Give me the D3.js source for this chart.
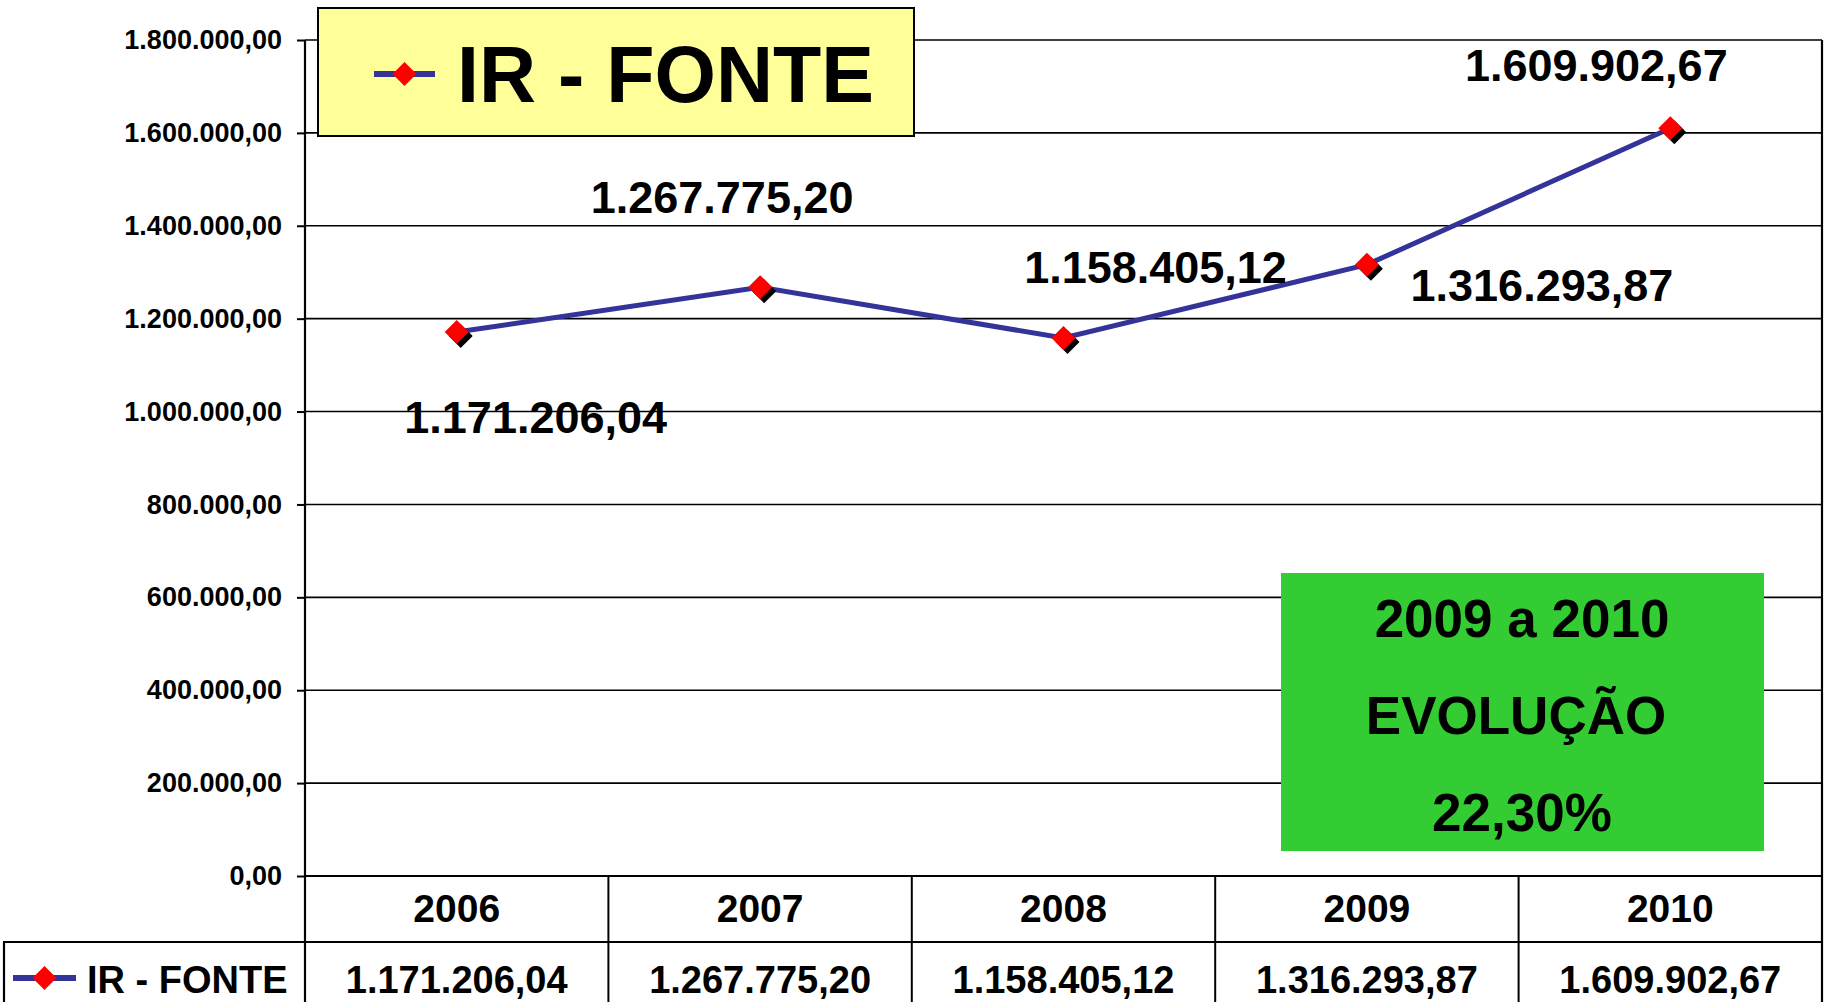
<!DOCTYPE html>
<html><head><meta charset="utf-8">
<script src="https://cdn.jsdelivr.net/npm/d3@7"></script>
<style>
html,body{margin:0;padding:0;background:#fff;}
svg{display:block;}
text{font-family:"Liberation Sans",Arial,Helvetica,sans-serif;font-weight:bold;fill:#000;}
</style></head>
<body>
<svg id="c" width="1826" height="1002"></svg>
<script>
// ---- data ----
const categories = ["2006","2007","2008","2009","2010"];
const seriesName = "IR - FONTE";
const values = [1171206.04, 1267775.20, 1158405.12, 1316293.87, 1609902.67];
const tickValues = [0,200000,400000,600000,800000,1000000,1200000,1400000,1600000,1800000];
const noteLines = ["2009 a 2010","EVOLUÇÃO","22,30%"];
// label offsets relative to point (style/layout)
const labelOffsets = [[79,101],[-38,-74],[92,-55],[175,36],[-74,-47]];

const loc = d3.formatLocale({decimal:",", thousands:".", grouping:[3], currency:["",""]});
const fmt = loc.format(",.2f");

const svg = d3.select("#c");
const L = 305, R = 1822, T = 40, B = 876;
const y = d3.scaleLinear().domain([0,1800000]).range([B,T]);
const x = d3.scaleBand().domain(categories).range([L,R]);
const cx = d => x(d) + x.bandwidth()/2;

// gridlines
svg.append("g").selectAll("line").data(tickValues).join("line")
  .attr("x1",L).attr("x2",R).attr("y1",d=>y(d)).attr("y2",d=>y(d))
  .attr("stroke","#000").attr("stroke-width",1.6);

// y axis
const yAxis = d3.axisLeft(y).tickValues(tickValues).tickSize(8).tickPadding(15).tickFormat(fmt);
const ga = svg.append("g").attr("transform",`translate(${L},0)`).call(yAxis);
ga.select(".domain").remove();
ga.selectAll(".tick line").attr("stroke","#000").attr("stroke-width",2);
ga.selectAll(".tick text").style("font-size","27px").attr("fill","#000")
  .style("font-family",'"Liberation Sans",Arial,sans-serif').style("font-weight","bold");
svg.append("line").attr("x1",L).attr("x2",L).attr("y1",T).attr("y2",1002).attr("stroke","#000").attr("stroke-width",2.2);
// right border
svg.append("line").attr("x1",R).attr("x2",R).attr("y1",T).attr("y2",1002).attr("stroke","#000").attr("stroke-width",2.2);
// zero line / table top
svg.append("line").attr("x1",L).attr("x2",R).attr("y1",B).attr("y2",B).attr("stroke","#000").attr("stroke-width",2.2);

// data table
const rowY = 942;
svg.append("line").attr("x1",3).attr("x2",R).attr("y1",rowY).attr("y2",rowY).attr("stroke","#000").attr("stroke-width",2.2);
svg.append("line").attr("x1",4).attr("x2",4).attr("y1",rowY).attr("y2",1002).attr("stroke","#000").attr("stroke-width",2.2);
svg.append("g").selectAll("line").data(categories.slice(1)).join("line")
  .attr("x1",d=>x(d)).attr("x2",d=>x(d)).attr("y1",B).attr("y2",1002)
  .attr("stroke","#000").attr("stroke-width",2);
svg.append("g").selectAll("text").data(categories).join("text")
  .attr("x",d=>cx(d)).attr("y",922)
  .attr("text-anchor","middle").style("font-size","39px").text(d=>d);
svg.append("g").selectAll("text").data(values).join("text")
  .attr("x",(d,i)=>cx(categories[i])).attr("y",993)
  .attr("text-anchor","middle").style("font-size","38px").text(d=>fmt(d));

// legend key
function legendKey(g, x0, x1, yy, lw, r){
  g.append("line").attr("x1",x0).attr("x2",x1).attr("y1",yy).attr("y2",yy).attr("stroke","#333399").attr("stroke-width",lw);
  const m=(x0+x1)/2;
  g.append("path").attr("d",`M${m},${yy-r}L${m+r},${yy}L${m},${yy+r}L${m-r},${yy}Z`).attr("fill","#ff0000");
}
legendKey(svg, 13, 76, 978, 6, 12);
svg.append("text").attr("x",87).attr("y",993).style("font-size","38px").text(seriesName);

// line
const line = d3.line().x((d,i)=>cx(categories[i])).y(d=>y(d));
svg.append("path").datum(values).attr("d",line).attr("fill","none")
  .attr("stroke","#333399").attr("stroke-width",5).attr("stroke-linejoin","miter");

// markers
const r = 12;
const dia = (px,py)=>`M${px},${py-r}L${px+r},${py}L${px},${py+r}L${px-r},${py}Z`;
svg.append("g").selectAll("path").data(values).join("path")
  .attr("d",(d,i)=>dia(cx(categories[i])+4, y(d)+4)).attr("fill","#000");
svg.append("g").selectAll("path").data(values).join("path")
  .attr("d",(d,i)=>dia(cx(categories[i]), y(d))).attr("fill","#ff0000");

// data labels
svg.append("g").selectAll("text").data(values).join("text")
  .attr("x",(d,i)=>cx(categories[i])+labelOffsets[i][0])
  .attr("y",(d,i)=>y(d)+labelOffsets[i][1])
  .attr("text-anchor","middle").style("font-size","45px").text(d=>fmt(d));

// legend box
svg.append("rect").attr("x",318).attr("y",8).attr("width",596).attr("height",128)
  .attr("fill","#ffff99").attr("stroke","#000").attr("stroke-width",2);
legendKey(svg, 374, 435, 74, 6, 12);
svg.append("text").attr("x",457).attr("y",102).style("font-size","79px").text(seriesName);

// note box
svg.append("rect").attr("x",1281).attr("y",573).attr("width",483).attr("height",278).attr("fill","#33cc33");
svg.append("g").selectAll("text").data(noteLines).join("text")
  .attr("x",(d,i)=>i===1?1516:1522).attr("y",(d,i)=>[637,734,831][i])
  .attr("text-anchor","middle").style("font-size","53px").text(d=>d);
</script>
</body></html>
